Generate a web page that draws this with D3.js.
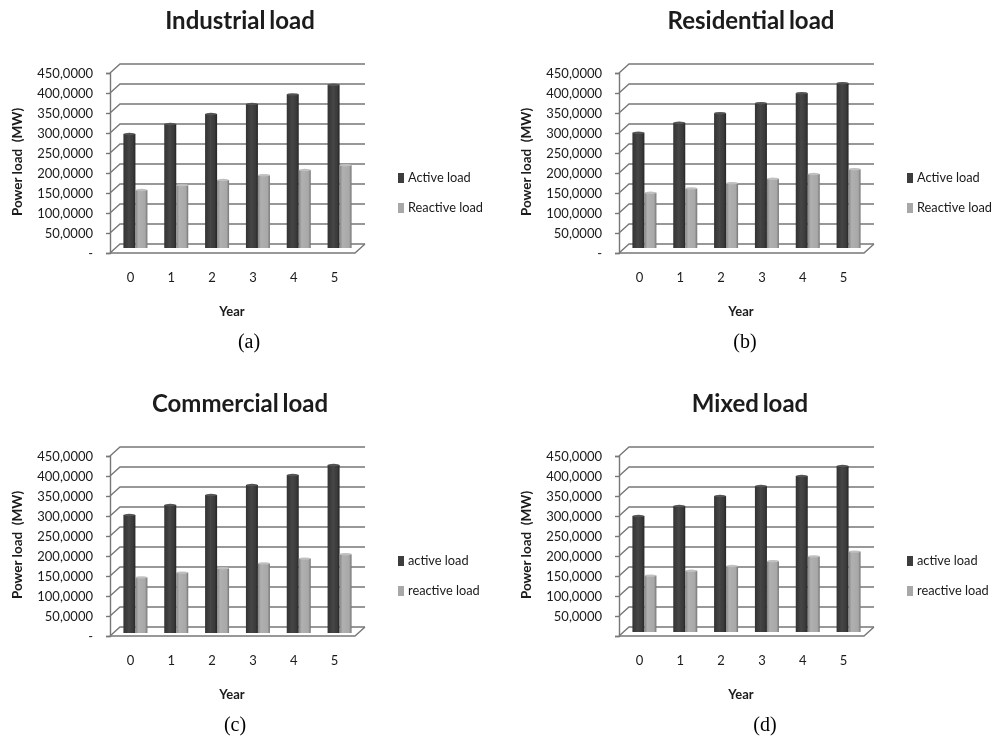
<!DOCTYPE html>
<html>
<head>
<meta charset="utf-8">
<script src="https://cdn.jsdelivr.net/npm/d3@7"></script>
<style>
  html, body { margin: 0; background: #fff; }
  svg { display: block; }
  text { font-family: Lato, "Open Sans", sans-serif; fill: #1a1a1a; }
</style>
</head>
<body>
<svg></svg>
<script>
'use strict';

const svgWidth = 995;
const svgHeight = 738;

const years = [0, 1, 2, 3, 4, 5];
const tickValues = [0, 50000, 100000, 150000, 200000, 250000, 300000, 350000, 400000, 450000];
const tickLabels = ['-', '50,0000', '100,0000', '150,0000', '200,0000', '250,0000', '300,0000', '350,0000', '400,0000', '450,0000'];

const industrialActive = [285000, 310000, 335000, 360000, 384000, 408000];
const industrialReactive = [145000, 157000, 170000, 182000, 195000, 207000];
const residentialActive = [288000, 313000, 337000, 362000, 387000, 412000];
const residentialReactive = [138000, 149000, 162000, 173000, 185000, 197000];
const commercialActive = [295000, 320000, 345000, 370000, 395000, 420000];
const commercialReactive = [139000, 151000, 162000, 174000, 186000, 197000];
const mixedActive = [290000, 315000, 340000, 365000, 390000, 415000];
const mixedReactive = [141000, 153000, 165000, 177000, 189000, 201000];

const upperLegend = ['Active load', 'Reactive load'];
const lowerLegend = ['active load', 'reactive load'];

// one entry per panel, x0/y0 = front corner of the axes
const panels = [
  { title: 'Industrial load', caption: '(a)', x0: 110, y0: 253, lift: 5, active: industrialActive, reactive: industrialReactive, legend: upperLegend, zero: true, titleX: 240, titleY: 29, capX: 249, capY: 348 },
  { title: 'Residential load', caption: '(b)', x0: 619, y0: 253, lift: 5, active: residentialActive, reactive: residentialReactive, legend: upperLegend, zero: true, titleX: 751, titleY: 29, capX: 745, capY: 348 },
  { title: 'Commercial load', caption: '(c)', x0: 110, y0: 636, lift: 3, active: commercialActive, reactive: commercialReactive, legend: lowerLegend, zero: true, titleX: 240, titleY: 412, capX: 235, capY: 731 },
  { title: 'Mixed load', caption: '(d)', x0: 619, y0: 636, lift: 4, active: mixedActive, reactive: mixedReactive, legend: lowerLegend, zero: false, titleX: 750, titleY: 412, capX: 765, capY: 731 }
];

const plotW = 245;
const plotH = 180;
const depth = 10;
const depthY = 9;
const barW = 12;

const svg = d3.select('svg')
  .attr('width', svgWidth)
  .attr('height', svgHeight);

// bars are shaded side to side like the old Excel 3D columns
const defs = svg.append('defs');
function barGradient(id, stops) {
  const g = defs.append('linearGradient').attr('id', id);
  stops.forEach(s => g.append('stop').attr('offset', s[0]).attr('stop-color', s[1]));
}
barGradient('darkBar', [[0, '#333333'], [0.45, '#464646'], [0.8, '#3a3a3a'], [1, '#262626']]);
barGradient('lightBar', [[0, '#858585'], [0.25, '#b0b0b0'], [0.8, '#a8a8a8'], [1, '#747474']]);

defs.append('filter').attr('id', 'soft')
  .append('feGaussianBlur').attr('stdDeviation', 0.5);

const page = svg.append('g').attr('filter', 'url(#soft)');

panels.forEach(p => {
  const g = page.append('g');

  const x = d3.scaleBand().domain(years).range([p.x0, p.x0 + plotW]);
  const y = d3.scaleLinear().domain([0, 450000]).range([p.y0, p.y0 - plotH]);
  const inner = d3.scaleBand().domain(['active', 'reactive']).range([-barW, barW]);

  // walls: diagonal from the axis to the back wall, then the grid line
  const wall = g.append('g').attr('fill', 'none').attr('stroke', '#777777').attr('stroke-width', 1.4);
  wall.selectAll('path').data(tickValues).join('path')
    .attr('d', d => {
      const yy = y(d);
      return d3.line()([[p.x0, yy], [p.x0 + depth, yy - depthY], [p.x0 + plotW + depth, yy - depthY]]);
    });
  // floor front edge
  wall.append('path')
    .attr('d', d3.line()([[p.x0, p.y0], [p.x0 + plotW, p.y0], [p.x0 + plotW + depth, p.y0 - depthY]]));

  // y axis
  const yAxis = g.append('g')
    .attr('transform', `translate(${p.x0}, 0)`)
    .call(d3.axisLeft(y).tickValues(tickValues).tickSize(4).tickPadding(13)
      .tickFormat((d, i) => (i === 0 && !p.zero) ? '' : tickLabels[i]));
  yAxis.selectAll('path, line').attr('stroke', '#777777').attr('stroke-width', 1.4);
  yAxis.selectAll('text').attr('font-size', 13).attr('font-family', 'Lato');

  // x axis labels only, the ticks are hidden in the original
  const xAxis = g.append('g')
    .attr('transform', `translate(0, ${p.y0})`)
    .call(d3.axisBottom(x).tickSize(0).tickPadding(20));
  xAxis.select('path').remove();
  xAxis.selectAll('text').attr('font-size', 13).attr('font-family', 'Lato');

  // bars
  const bars = g.append('g');
  [['active', p.active, 'darkBar', '#555555'], ['reactive', p.reactive, 'lightBar', '#c0c0c0']].forEach(s => {
    const base = p.y0 - p.lift;
    const left = d => x(d) + x.bandwidth() / 2 + depth / 2 + inner(s[0]);
    const top = (d, i) => y(s[1][i]) - (p.y0 - base);
    const group = bars.append('g');
    group.selectAll('rect').data(years).join('rect')
      .attr('x', left)
      .attr('y', top)
      .attr('width', inner.bandwidth())
      .attr('height', (d, i) => base - top(d, i))
      .attr('fill', `url(#${s[2]})`);
    group.selectAll('ellipse').data(years).join('ellipse')
      .attr('cx', d => left(d) + inner.bandwidth() / 2)
      .attr('cy', top)
      .attr('rx', inner.bandwidth() / 2)
      .attr('ry', 1.2)
      .attr('fill', s[3]);
  });

  // axis titles
  g.append('text')
    .attr('text-anchor', 'middle')
    .attr('font-weight', 700)
    .attr('font-size', 13)
    .attr('x', p.x0 + 122)
    .attr('y', p.y0 + 63)
    .text('Year');

  g.append('text')
    .attr('text-anchor', 'middle')
    .attr('font-weight', 700)
    .attr('font-size', 13.5)
    .attr('transform', `translate(${p.x0 - 88}, ${p.y0 - 91}) rotate(-90)`)
    .text('Power load  (MW)')
    .style('white-space', 'pre');

  // legend
  const legendX = p.x0 + 288;
  const legendY = d3.scalePoint().domain(p.legend).range([p.y0 - 75, p.y0 - 45]);
  const legend = g.append('g');
  legend.selectAll('rect').data(p.legend).join('rect')
    .attr('x', legendX)
    .attr('y', d => legendY(d) - 5)
    .attr('width', 6)
    .attr('height', 10)
    .attr('fill', (d, i) => i === 0 ? '#3c3c3c' : '#a8a8a8');
  legend.selectAll('text').data(p.legend).join('text')
    .attr('x', legendX + 10)
    .attr('y', d => legendY(d))
    .attr('dy', '0.35em')
    .attr('font-size', 12.8)
    .text(d => d);

  // chart title
  g.append('text')
    .attr('text-anchor', 'middle')
    .attr('font-weight', 700)
    .attr('font-size', 24)
    .attr('word-spacing', -2)
    .attr('x', p.titleX)
    .attr('y', p.titleY)
    .text(p.title);

  // sub-figure caption
  g.append('text')
    .attr('text-anchor', 'middle')
    .style('font-family', '"Liberation Serif", serif')
    .style('fill', '#000')
    .attr('font-size', 20)
    .attr('x', p.capX)
    .attr('y', p.capY)
    .text(p.caption);
});
</script>
</body>
</html>
